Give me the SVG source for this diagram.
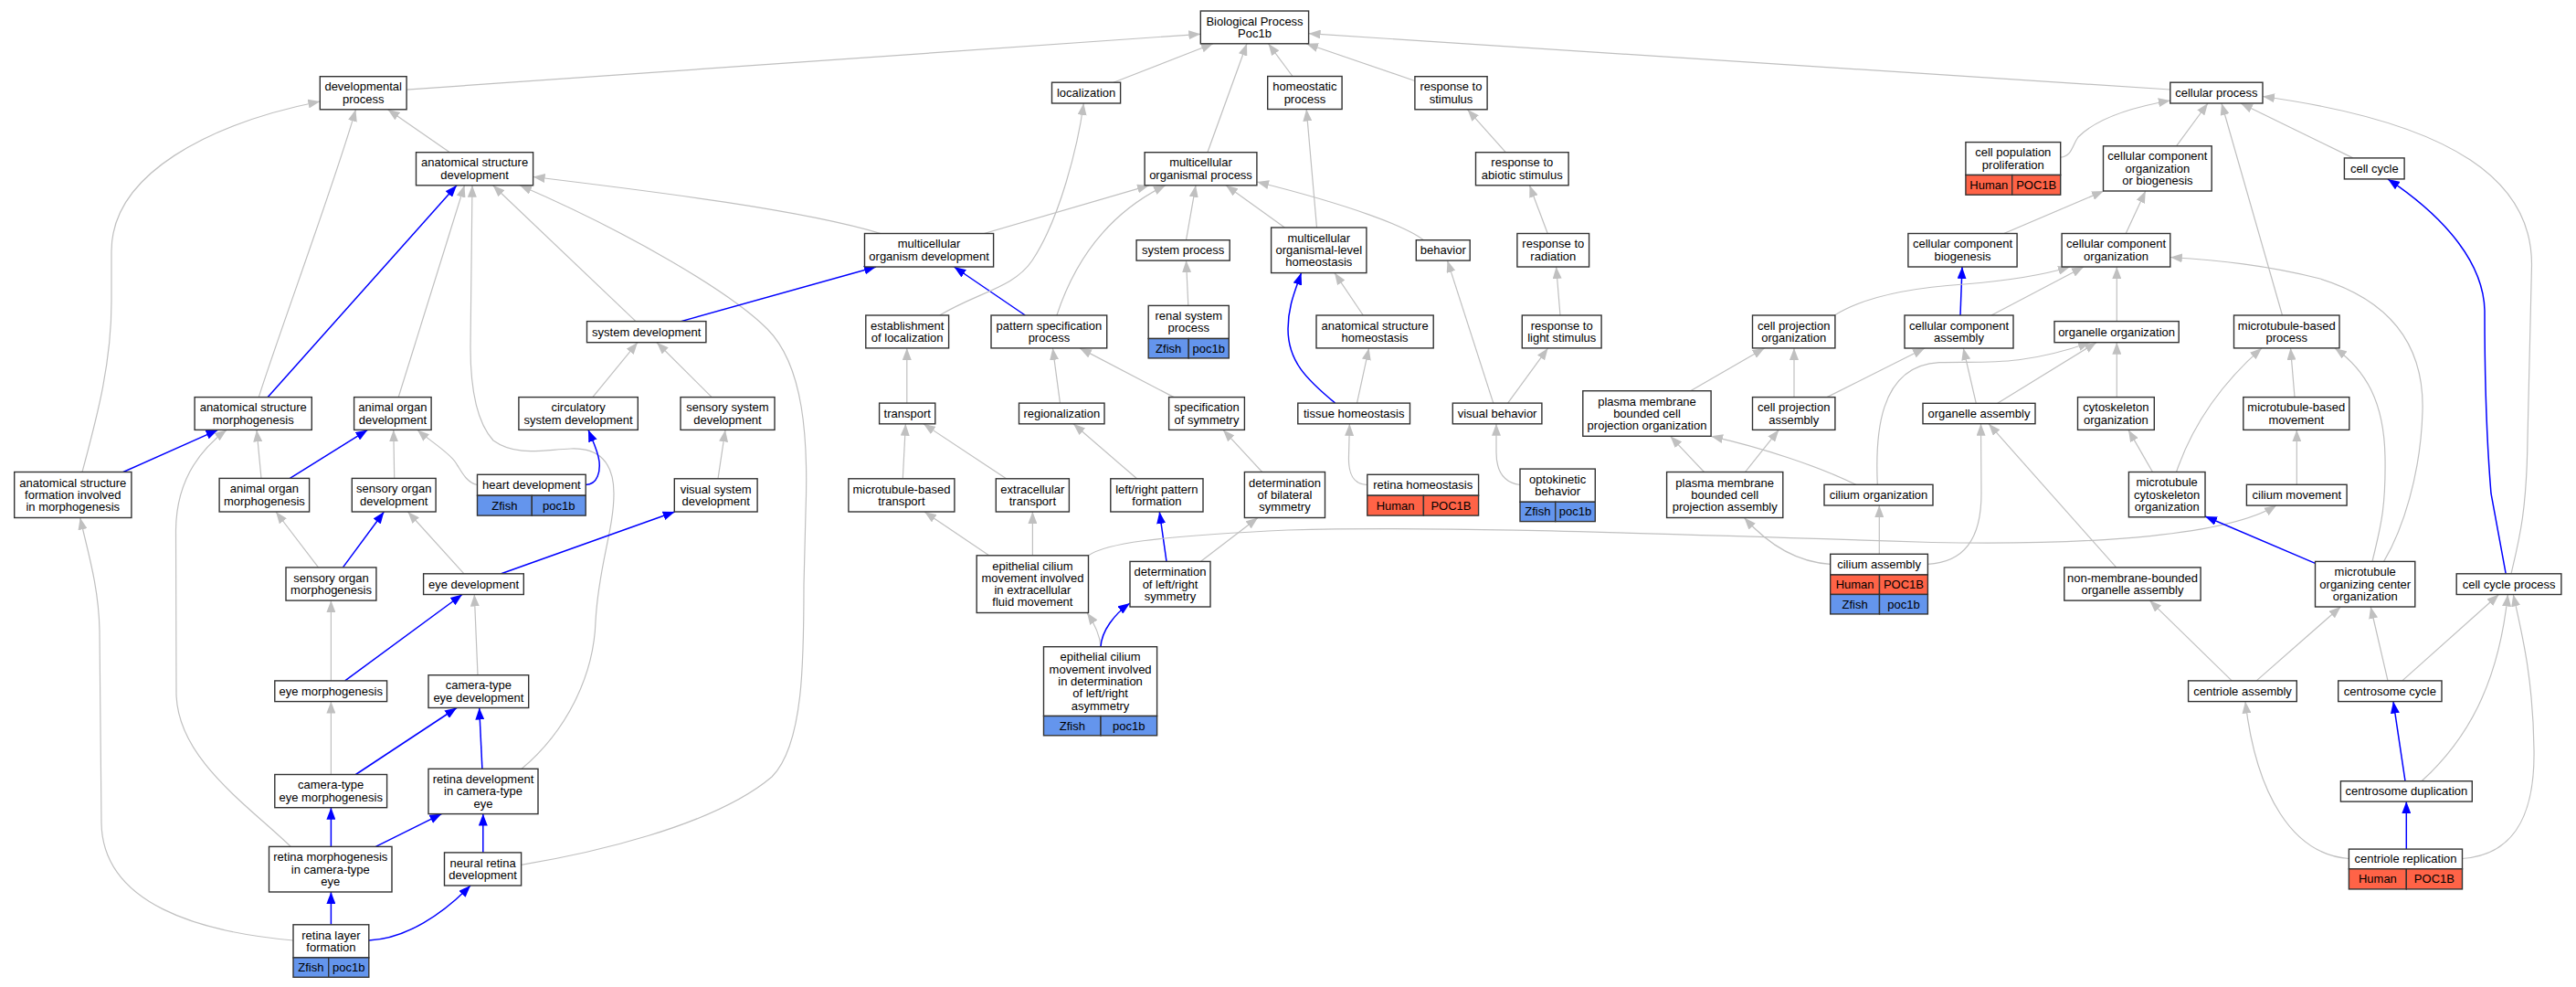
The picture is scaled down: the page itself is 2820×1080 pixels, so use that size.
<svg xmlns="http://www.w3.org/2000/svg" width="2820" height="1080" viewBox="0 0 2820 1080">
<style>
text{font-family:"Liberation Sans",Arial,Helvetica,sans-serif;font-size:13px;text-anchor:middle;fill:#000}
.n rect{fill:#fff;stroke:#333;stroke-width:1.4}
.n rect.h{fill:#ff6347}
.n rect.z{fill:#6495ed}
#edges path{fill:none}
.g{stroke:#c0c0c0;stroke-width:1.2;marker-end:url(#ag)}
.b{stroke:#0000ff;stroke-width:1.5;marker-end:url(#ab)}
</style>
<defs>
<marker id="ag" markerUnits="userSpaceOnUse" markerWidth="13" markerHeight="10" viewBox="0 0 13 10" refX="13" refY="5" orient="auto"><path d="M0,0 L13,5 L0,10 z" fill="#c0c0c0"/></marker>
<marker id="ab" markerUnits="userSpaceOnUse" markerWidth="13" markerHeight="10" viewBox="0 0 13 10" refX="13" refY="5" orient="auto"><path d="M0,0 L13,5 L0,10 z" fill="#0000ff"/></marker>
</defs>
<rect width="2820" height="1080" fill="#fff"/>
<g id="edges">
<path class="g" d="M445.1,98.1 L1314.3,37.3"/>
<path class="g" d="M1219,90.2 L1328,47.8"/>
<path class="g" d="M1321.9,166.7 L1365,47.8"/>
<path class="g" d="M1415,83.5 L1388.5,47.8"/>
<path class="g" d="M1548.9,88.5 L1430,47.8"/>
<path class="g" d="M2375.8,98 L1432.6,36.7"/>
<path class="g" d="M492.4,166.7 L424.5,119.8"/>
<path class="g" d="M283.3,434.6 C300,380 370,190 389.4,119.8"/>
<path class="g" d="M90,516.5 C105,460 122,400 122,330 L122,275 C122,190 230,135 350.3,111"/>
<path class="g" d="M964,255.5 C880,230 720,210 583.6,193.5"/>
<path class="g" d="M696,351.6 L539.6,202.8"/>
<path class="g" d="M436.2,434.6 L508.5,202.8"/>
<path class="g" d="M571,841.3 C620,800 650,740 652,680 C655,620 672,580 672,540 C672,505 655,490 625,491 C595,492 565,500 540,482 C520,460 515,420 515,380 L517,202.8"/>
<path class="g" d="M570.6,946.3 C640,935 780,905 845,850 C880,815 880,720 880,640 L882,560 C885,480 880,400 840,360 C800,320 690,255 569,202.8"/>
<path class="g" d="M286,523.4 L281,470.4"/>
<path class="g" d="M318.3,926.4 C270,880 195,830 193,760 L192.5,580 C193,530 215,495 248,470.4"/>
<path class="g" d="M321,1029 C220,1020 112,990 111,900 L109,690 C108,640 95,600 87.7,566.5"/>
<path class="g" d="M431.7,523.4 L430.8,470.4"/>
<path class="g" d="M522.5,530.5 C510,528 505,515 498,505 C490,494 470,482 457,470.4"/>
<path class="b" d="M641.2,530.5 C655,530 657,515 656,505 C655,495 650,485 644,470.4"/>
<path class="g" d="M648.8,434.6 L698,374.7"/>
<path class="g" d="M779.2,434.6 L719,374.7"/>
<path class="g" d="M786,523.8 L794,470.4"/>
<path class="b" d="M293.2,434.6 L500,202.8"/>
<path class="b" d="M134.9,516.5 L238.5,470.4"/>
<path class="b" d="M317.4,523.4 L402.4,470.4"/>
<path class="g" d="M348.5,620.9 L302,560"/>
<path class="b" d="M375.4,620.9 L420.4,560"/>
<path class="g" d="M508,627.8 L446.5,560"/>
<path class="b" d="M548.6,627.8 L738.7,560"/>
<path class="g" d="M362.4,744.9 L362.4,657.1"/>
<path class="b" d="M377.7,744.9 L506,650.5"/>
<path class="g" d="M523,738.7 L519.3,650.5"/>
<path class="g" d="M362.4,847.5 L362.4,767.6"/>
<path class="b" d="M389.4,847.5 L500,774.5"/>
<path class="b" d="M527.9,841.3 L524.7,774.5"/>
<path class="b" d="M362.4,926.4 L362.4,883.7"/>
<path class="b" d="M411.4,926.4 L483.4,890.6"/>
<path class="b" d="M528.8,932.9 L528.8,890.6"/>
<path class="b" d="M362.4,1011.8 L362.4,976"/>
<path class="b" d="M403.8,1029 C445,1027 485,1000 515,969"/>
<path class="g" d="M1077.3,255.5 L1258,202.8"/>
<path class="g" d="M1156.9,345 C1175,290 1210,235 1276,202.8"/>
<path class="g" d="M1298.5,262.7 L1309,202.8"/>
<path class="g" d="M1406.4,249 L1342,202.8"/>
<path class="g" d="M1558.4,262.7 C1540,248 1480,225 1376,199"/>
<path class="b" d="M745.5,351.6 L959,292"/>
<path class="b" d="M1122.3,345 L1044.5,292"/>
<path class="g" d="M1028.7,345 C1070,320 1110,315 1130,285 C1160,240 1180,160 1186.3,113"/>
<path class="g" d="M1441.5,249 L1430.2,119.5"/>
<path class="g" d="M1300.8,334.4 L1298.5,285.1"/>
<path class="g" d="M992.8,441.1 L992.8,380.9"/>
<path class="g" d="M1160.5,441.1 L1152.4,380.9"/>
<path class="g" d="M1285,434.6 L1182,380.9"/>
<path class="g" d="M988.3,523.8 L991.4,463.8"/>
<path class="g" d="M1101.6,523.8 L1011,463.8"/>
<path class="g" d="M1244.6,523.8 L1175,463.8"/>
<path class="g" d="M1381.7,516.5 L1339,470.4"/>
<path class="g" d="M1082.7,607.8 L1012,560"/>
<path class="g" d="M1130.4,607.8 L1130.4,560"/>
<path class="b" d="M1277,614.4 L1269.3,560"/>
<path class="g" d="M1314.3,614.4 L1377,566.5"/>
<path class="g" d="M1191.5,607.8 C1210,595 1260,587 1410,580 C1550,576 1700,580 2115,593.5 C2300,597 2440,585 2492,553.1"/>
<path class="g" d="M1205,707.7 C1204,695 1198,682 1190,670.5"/>
<path class="b" d="M1205,707.7 C1206,690 1220,672 1237,660"/>
<path class="g" d="M1492.3,345 L1461,298.6"/>
<path class="b" d="M1461.7,441.1 C1430,415 1410,395 1410,360 C1410,335 1418,318 1424.5,298.6"/>
<path class="g" d="M1485.5,441.1 L1498.6,380.9"/>
<path class="g" d="M1496.8,530.5 C1482,530 1476,520 1476.5,500 L1477.4,463.8"/>
<path class="g" d="M1634.8,441.1 L1584.5,285.1"/>
<path class="g" d="M1650.6,441.1 L1694.6,380.9"/>
<path class="g" d="M1664,530.5 C1645,528 1638,515 1638,495 L1638,463.8"/>
<path class="g" d="M1648.3,166.7 L1606.5,119.8"/>
<path class="g" d="M1694.2,255.5 L1674.4,202.8"/>
<path class="g" d="M1708,345 L1703.6,292"/>
<path class="g" d="M2255.7,172.2 C2268,171 2268,160 2275,150 C2295,130 2330,118 2375.8,110"/>
<path class="g" d="M2382.5,159.8 L2417,113"/>
<path class="g" d="M2498.5,345 L2432,113"/>
<path class="g" d="M2575.9,172.9 L2453,113"/>
<path class="g" d="M2749,627.8 C2758,590 2766,560 2767,480 L2771.5,290 C2772,200 2690,135 2477,105.5"/>
<path class="g" d="M2193.7,255.5 L2303,209"/>
<path class="g" d="M2327.2,255.5 L2348.8,209"/>
<path class="b" d="M2743.2,627.8 L2727,540 C2722,480 2720,400 2720,340 C2719,290 2680,240 2614,195.9"/>
<path class="b" d="M2146,345 L2148,292"/>
<path class="g" d="M2008.3,345 C2040,325 2090,315 2150,311 C2200,307 2240,300 2266,292"/>
<path class="g" d="M2180,345 L2281,292"/>
<path class="g" d="M2317.3,351.6 L2317.3,292"/>
<path class="g" d="M2609.6,614.4 C2630,580 2650,520 2652,450 C2654,380 2620,330 2540,305 C2480,290 2430,285 2375.8,281.5"/>
<path class="g" d="M1850.6,427.7 L1931.6,380.9"/>
<path class="g" d="M1964,434.6 L1964,380.9"/>
<path class="g" d="M2000,434.6 L2107,381"/>
<path class="g" d="M2055.3,530.3 C2053,480 2055,400 2123,396.7 C2170,395 2210,402 2288,374.7"/>
<path class="g" d="M2186.7,441.3 L2295,374.7"/>
<path class="g" d="M2163.3,441.3 L2149.3,381"/>
<path class="g" d="M2317.3,434.6 L2317.3,374.7"/>
<path class="g" d="M2512,434.6 L2507.5,380.9"/>
<path class="g" d="M2382.5,516.5 C2395,480 2420,430 2476,380.9"/>
<path class="g" d="M2597,614.4 C2605,580 2612,560 2611,500 C2610,440 2590,405 2556,380.9"/>
<path class="g" d="M2356.5,516.5 L2330,470.4"/>
<path class="g" d="M2514.3,530.3 L2514.3,470.4"/>
<path class="b" d="M2534.5,616.4 L2414,565"/>
<path class="g" d="M2110.4,617.3 C2150,615 2169,590 2169,540 L2168.5,463.7"/>
<path class="g" d="M2316.7,620.9 L2177,463.7"/>
<path class="g" d="M2057.3,606.3 L2057.3,553"/>
<path class="g" d="M2003.7,617.3 C1965,615 1935,595 1909.5,566.5"/>
<path class="g" d="M1865.5,516.5 L1828.5,477.3"/>
<path class="g" d="M1910.5,516.5 L1947.3,470.4"/>
<path class="g" d="M2031.7,530.3 C1990,510 1930,490 1873.1,477.3"/>
<path class="g" d="M2629.8,744.9 L2735.5,650.5"/>
<path class="g" d="M2614,744.9 L2595.2,664"/>
<path class="g" d="M2470.2,744.9 L2562.4,664"/>
<path class="g" d="M2443.2,744.9 L2353.3,657.1"/>
<path class="g" d="M2651,854.7 C2700,810 2735,750 2745.4,650.5"/>
<path class="b" d="M2633,854.7 L2620,767.6"/>
<path class="b" d="M2634.3,929.1 L2634.3,877.1"/>
<path class="g" d="M2571.4,939.5 C2510,935 2470,870 2458,767.6"/>
<path class="g" d="M2695.5,939.5 C2760,935 2775,880 2774,820 C2773,740 2760,690 2751.3,650.5"/>
</g>
<g id="n-bp" class="n"><rect x="1314.3" y="12" width="118.3" height="35.8"/><text><tspan x="1373.5" y="27.6">Biological Process</tspan><tspan x="1373.5" y="40.9">Poc1b</tspan></text></g>
<g id="n-devproc" class="n"><rect x="350.3" y="83.7" width="94.8" height="36.1"/><text><tspan x="397.7" y="99.4">developmental</tspan><tspan x="397.7" y="112.7">process</tspan></text></g>
<g id="n-localization" class="n"><rect x="1151.5" y="90.2" width="75.1" height="22.8"/><text x="1189.1" y="105.9">localization</text></g>
<g id="n-homeoproc" class="n"><rect x="1387.7" y="83.5" width="81.4" height="36"/><text><tspan x="1428.4" y="99.2">homeostatic</tspan><tspan x="1428.4" y="112.5">process</tspan></text></g>
<g id="n-respstim" class="n"><rect x="1548.9" y="83.7" width="79.2" height="36.1"/><text><tspan x="1588.5" y="99.4">response to</tspan><tspan x="1588.5" y="112.7">stimulus</tspan></text></g>
<g id="n-cellproc" class="n"><rect x="2375.8" y="90.2" width="101.2" height="22.8"/><text x="2426.4" y="105.9">cellular process</text></g>
<g id="n-asd" class="n"><rect x="455.5" y="166.7" width="128.1" height="36.1"/><text><tspan x="519.6" y="182.4">anatomical structure</tspan><tspan x="519.6" y="195.7">development</tspan></text></g>
<g id="n-mop" class="n"><rect x="1253.1" y="166.7" width="122.8" height="36.1"/><text><tspan x="1314.5" y="182.4">multicellular</tspan><tspan x="1314.5" y="195.7">organismal process</tspan></text></g>
<g id="n-rabio" class="n"><rect x="1615.5" y="166.7" width="101.6" height="36.1"/><text><tspan x="1666.3" y="182.4">response to</tspan><tspan x="1666.3" y="195.7">abiotic stimulus</tspan></text></g>
<g id="n-cpp" class="n"><rect x="2151.9" y="155.6" width="103.8" height="35.9"/><rect class="h" x="2151.9" y="191.5" width="50.8" height="21.7"/><rect class="h" x="2202.7" y="191.5" width="53" height="21.7"/><text><tspan x="2203.8" y="171.2">cell population</tspan><tspan x="2203.8" y="184.5">proliferation</tspan></text><text x="2177.3" y="206.7">Human</text><text x="2229.2" y="206.7">POC1B</text></g>
<g id="n-ccoob" class="n"><rect x="2302.5" y="159.8" width="118.7" height="49.2"/><text><tspan x="2361.9" y="175.4">cellular component</tspan><tspan x="2361.9" y="188.7">organization</tspan><tspan x="2361.9" y="202">or biogenesis</tspan></text></g>
<g id="n-cellcycle" class="n"><rect x="2566.4" y="172.9" width="65.7" height="23"/><text x="2599.3" y="188.7">cell cycle</text></g>
<g id="n-mod" class="n"><rect x="946.5" y="255.5" width="141.1" height="36.5"/><text><tspan x="1017.1" y="271.4">multicellular</tspan><tspan x="1017.1" y="284.7">organism development</tspan></text></g>
<g id="n-sysproc" class="n"><rect x="1244.1" y="262.7" width="102.1" height="22.4"/><text x="1295.2" y="278.2">system process</text></g>
<g id="n-molh" class="n"><rect x="1391.6" y="249" width="104.3" height="49.6"/><text><tspan x="1443.8" y="264.8">multicellular</tspan><tspan x="1443.8" y="278.1">organismal-level</tspan><tspan x="1443.8" y="291.4">homeostasis</tspan></text></g>
<g id="n-behavior" class="n"><rect x="1550.3" y="262.7" width="58.9" height="22.4"/><text x="1579.8" y="278.2">behavior</text></g>
<g id="n-rrad" class="n"><rect x="1660.9" y="255.5" width="78.7" height="36.5"/><text><tspan x="1700.3" y="271.4">response to</tspan><tspan x="1700.3" y="284.7">radiation</tspan></text></g>
<g id="n-ccb" class="n"><rect x="2088.9" y="255.5" width="119.2" height="36.5"/><text><tspan x="2148.5" y="271.4">cellular component</tspan><tspan x="2148.5" y="284.7">biogenesis</tspan></text></g>
<g id="n-cco" class="n"><rect x="2257.1" y="255.5" width="118.7" height="36.5"/><text><tspan x="2316.5" y="271.4">cellular component</tspan><tspan x="2316.5" y="284.7">organization</tspan></text></g>
<g id="n-sysdev" class="n"><rect x="642.5" y="351.6" width="130.4" height="23.1"/><text x="707.7" y="367.5">system development</text></g>
<g id="n-eol" class="n"><rect x="947.8" y="345" width="90.8" height="35.9"/><text><tspan x="993.2" y="360.6">establishment</tspan><tspan x="993.2" y="373.9">of localization</tspan></text></g>
<g id="n-psp" class="n"><rect x="1085" y="345" width="126.7" height="35.9"/><text><tspan x="1148.4" y="360.6">pattern specification</tspan><tspan x="1148.4" y="373.9">process</tspan></text></g>
<g id="n-renal" class="n"><rect x="1257.2" y="334.4" width="88.1" height="36.1"/><rect class="z" x="1257.2" y="370.5" width="44" height="21.4"/><rect class="z" x="1301.2" y="370.5" width="44.1" height="21.4"/><text><tspan x="1301.3" y="350.1">renal system</tspan><tspan x="1301.3" y="363.4">process</tspan></text><text x="1279.2" y="385.5">Zfish</text><text x="1323.3" y="385.5">poc1b</text></g>
<g id="n-ash" class="n"><rect x="1441" y="345" width="128.2" height="35.9"/><text><tspan x="1505.1" y="360.6">anatomical structure</tspan><tspan x="1505.1" y="373.9">homeostasis</tspan></text></g>
<g id="n-rls" class="n"><rect x="1666.3" y="345" width="86.8" height="35.9"/><text><tspan x="1709.7" y="360.6">response to</tspan><tspan x="1709.7" y="373.9">light stimulus</tspan></text></g>
<g id="n-cpo" class="n"><rect x="1918.5" y="345" width="90.4" height="35.9"/><text><tspan x="1963.7" y="360.6">cell projection</tspan><tspan x="1963.7" y="373.9">organization</tspan></text></g>
<g id="n-cca" class="n"><rect x="2085" y="345" width="119" height="36"/><text><tspan x="2144.5" y="360.7">cellular component</tspan><tspan x="2144.5" y="374">assembly</tspan></text></g>
<g id="n-oo" class="n"><rect x="2249" y="351.6" width="136.2" height="23.1"/><text x="2317.1" y="367.5">organelle organization</text></g>
<g id="n-mbp" class="n"><rect x="2445.5" y="345" width="115.5" height="35.9"/><text><tspan x="2503.3" y="360.6">microtubule-based</tspan><tspan x="2503.3" y="373.9">process</tspan></text></g>
<g id="n-asm" class="n"><rect x="213.1" y="434.6" width="128.2" height="35.8"/><text><tspan x="277.2" y="450.2">anatomical structure</tspan><tspan x="277.2" y="463.5">morphogenesis</tspan></text></g>
<g id="n-aod" class="n"><rect x="387.6" y="434.6" width="84.5" height="35.8"/><text><tspan x="429.9" y="450.2">animal organ</tspan><tspan x="429.9" y="463.5">development</tspan></text></g>
<g id="n-csd" class="n"><rect x="567.9" y="434.6" width="130.4" height="35.8"/><text><tspan x="633.1" y="450.2">circulatory</tspan><tspan x="633.1" y="463.5">system development</tspan></text></g>
<g id="n-ssd" class="n"><rect x="745" y="434.6" width="103" height="35.8"/><text><tspan x="796.5" y="450.2">sensory system</tspan><tspan x="796.5" y="463.5">development</tspan></text></g>
<g id="n-transport" class="n"><rect x="962.6" y="441.1" width="61.2" height="22.7"/><text x="993.2" y="456.8">transport</text></g>
<g id="n-region" class="n"><rect x="1115.5" y="441.1" width="93.5" height="22.7"/><text x="1162.3" y="456.8">regionalization</text></g>
<g id="n-specsym" class="n"><rect x="1279.6" y="434.6" width="82.8" height="35.8"/><text><tspan x="1321" y="450.2">specification</tspan><tspan x="1321" y="463.5">of symmetry</tspan></text></g>
<g id="n-tissueh" class="n"><rect x="1420.8" y="441.1" width="122.7" height="22.7"/><text x="1482.2" y="456.8">tissue homeostasis</text></g>
<g id="n-visbeh" class="n"><rect x="1590.3" y="441.1" width="97.6" height="22.7"/><text x="1639.1" y="456.8">visual behavior</text></g>
<g id="n-pmbcpo" class="n"><rect x="1732.8" y="427.7" width="140.3" height="49.6"/><text><tspan x="1803" y="443.5">plasma membrane</tspan><tspan x="1803" y="456.8">bounded cell</tspan><tspan x="1803" y="470.1">projection organization</tspan></text></g>
<g id="n-cpa" class="n"><rect x="1918.5" y="434.6" width="90.4" height="35.8"/><text><tspan x="1963.7" y="450.2">cell projection</tspan><tspan x="1963.7" y="463.5">assembly</tspan></text></g>
<g id="n-oa" class="n"><rect x="2105" y="441.3" width="123" height="22.4"/><text x="2166.5" y="456.8">organelle assembly</text></g>
<g id="n-cytoorg" class="n"><rect x="2274.5" y="434.6" width="83.8" height="35.8"/><text><tspan x="2316.4" y="450.2">cytoskeleton</tspan><tspan x="2316.4" y="463.5">organization</tspan></text></g>
<g id="n-mbm" class="n"><rect x="2455.8" y="434.6" width="116" height="35.8"/><text><tspan x="2513.8" y="450.2">microtubule-based</tspan><tspan x="2513.8" y="463.5">movement</tspan></text></g>
<g id="n-asfim" class="n"><rect x="15.7" y="516.5" width="128.2" height="50"/><text><tspan x="79.8" y="532.5">anatomical structure</tspan><tspan x="79.8" y="545.8">formation involved</tspan><tspan x="79.8" y="559.1">in morphogenesis</tspan></text></g>
<g id="n-aom" class="n"><rect x="240.1" y="523.4" width="98.5" height="36.6"/><text><tspan x="289.4" y="539.4">animal organ</tspan><tspan x="289.4" y="552.7">morphogenesis</tspan></text></g>
<g id="n-sod" class="n"><rect x="385.3" y="523.4" width="91.8" height="36.6"/><text><tspan x="431.2" y="539.4">sensory organ</tspan><tspan x="431.2" y="552.7">development</tspan></text></g>
<g id="n-heartdev" class="n"><rect x="522.5" y="519.3" width="118.7" height="22.9"/><rect class="z" x="522.5" y="542.2" width="59.8" height="21.9"/><rect class="z" x="582.3" y="542.2" width="58.9" height="21.9"/><text x="581.9" y="535.1">heart development</text><text x="552.4" y="557.5">Zfish</text><text x="611.8" y="557.5">poc1b</text></g>
<g id="n-vsd" class="n"><rect x="738.3" y="523.8" width="90.8" height="36.2"/><text><tspan x="783.7" y="539.6">visual system</tspan><tspan x="783.7" y="552.9">development</tspan></text></g>
<g id="n-mbt" class="n"><rect x="928.9" y="523.8" width="116" height="36.2"/><text><tspan x="986.9" y="539.6">microtubule-based</tspan><tspan x="986.9" y="552.9">transport</tspan></text></g>
<g id="n-ect" class="n"><rect x="1090.3" y="523.8" width="80.1" height="36.2"/><text><tspan x="1130.4" y="539.6">extracellular</tspan><tspan x="1130.4" y="552.9">transport</tspan></text></g>
<g id="n-lrpf" class="n"><rect x="1215.8" y="523.8" width="101.2" height="36.2"/><text><tspan x="1266.4" y="539.6">left/right pattern</tspan><tspan x="1266.4" y="552.9">formation</tspan></text></g>
<g id="n-dbs" class="n"><rect x="1362.4" y="516.5" width="88.1" height="50"/><text><tspan x="1406.5" y="532.5">determination</tspan><tspan x="1406.5" y="545.8">of bilateral</tspan><tspan x="1406.5" y="559.1">symmetry</tspan></text></g>
<g id="n-retinah" class="n"><rect x="1496.8" y="519.3" width="121.8" height="22.9"/><rect class="h" x="1496.8" y="542.2" width="61.6" height="21.9"/><rect class="h" x="1558.4" y="542.2" width="60.2" height="21.9"/><text x="1557.7" y="535.1">retina homeostasis</text><text x="1527.6" y="557.5">Human</text><text x="1588.5" y="557.5">POC1B</text></g>
<g id="n-okb" class="n"><rect x="1664" y="513.1" width="82.3" height="36.2"/><rect class="z" x="1664" y="549.3" width="38.7" height="21.3"/><rect class="z" x="1702.7" y="549.3" width="43.6" height="21.3"/><text><tspan x="1705.2" y="528.9">optokinetic</tspan><tspan x="1705.2" y="542.2">behavior</tspan></text><text x="1683.4" y="564.3">Zfish</text><text x="1724.5" y="564.3">poc1b</text></g>
<g id="n-pmbcpa" class="n"><rect x="1824.6" y="516.5" width="127.2" height="50"/><text><tspan x="1888.2" y="532.5">plasma membrane</tspan><tspan x="1888.2" y="545.8">bounded cell</tspan><tspan x="1888.2" y="559.1">projection assembly</tspan></text></g>
<g id="n-ciliumorg" class="n"><rect x="1997" y="530.3" width="119" height="22.7"/><text x="2056.5" y="546">cilium organization</text></g>
<g id="n-mco" class="n"><rect x="2330.4" y="516.5" width="83.6" height="49.3"/><text><tspan x="2372.2" y="532.2">microtubule</tspan><tspan x="2372.2" y="545.5">cytoskeleton</tspan><tspan x="2372.2" y="558.8">organization</tspan></text></g>
<g id="n-ciliummov" class="n"><rect x="2459.4" y="530.3" width="109.7" height="22.8"/><text x="2514.3" y="546">cilium movement</text></g>
<g id="n-ecmefm" class="n"><rect x="1069.2" y="607.8" width="122.3" height="62.7"/><text><tspan x="1130.4" y="623.5">epithelial cilium</tspan><tspan x="1130.4" y="636.8">movement involved</tspan><tspan x="1130.4" y="650.1">in extracellular</tspan><tspan x="1130.4" y="663.4">fluid movement</tspan></text></g>
<g id="n-dlrs" class="n"><rect x="1237" y="614.4" width="88" height="49.6"/><text><tspan x="1281" y="630.2">determination</tspan><tspan x="1281" y="643.5">of left/right</tspan><tspan x="1281" y="656.8">symmetry</tspan></text></g>
<g id="n-ciliumasm" class="n"><rect x="2003.7" y="606.3" width="106.7" height="22.7"/><rect class="h" x="2003.7" y="629" width="53.8" height="21.45"/><rect class="h" x="2057.5" y="629" width="52.9" height="21.45"/><rect class="z" x="2003.7" y="650.45" width="53.8" height="21.45"/><rect class="z" x="2057.5" y="650.45" width="52.9" height="21.45"/><text x="2057.1" y="622">cilium assembly</text><text x="2030.6" y="644">Human</text><text x="2084" y="644">POC1B</text><text x="2030.6" y="665.5">Zfish</text><text x="2084" y="665.5">poc1b</text></g>
<g id="n-nmboa" class="n"><rect x="2259.8" y="620.9" width="149.3" height="36.2"/><text><tspan x="2334.5" y="636.7">non-membrane-bounded</tspan><tspan x="2334.5" y="650">organelle assembly</tspan></text></g>
<g id="n-mtoc" class="n"><rect x="2534.5" y="614.4" width="109.3" height="49.6"/><text><tspan x="2589.2" y="630.2">microtubule</tspan><tspan x="2589.2" y="643.5">organizing center</tspan><tspan x="2589.2" y="656.8">organization</tspan></text></g>
<g id="n-ccp" class="n"><rect x="2689.2" y="627.8" width="114.7" height="22.7"/><text x="2746.6" y="643.5">cell cycle process</text></g>
<g id="n-som" class="n"><rect x="313" y="620.9" width="98.9" height="36.2"/><text><tspan x="362.5" y="636.7">sensory organ</tspan><tspan x="362.5" y="650">morphogenesis</tspan></text></g>
<g id="n-eyedev" class="n"><rect x="463.6" y="627.8" width="109.7" height="22.7"/><text x="518.5" y="643.5">eye development</text></g>
<g id="n-ecmdlr" class="n"><rect x="1142.5" y="707.7" width="124.1" height="75.8"/><rect class="z" x="1142.5" y="783.5" width="62.5" height="21.3"/><rect class="z" x="1205" y="783.5" width="61.6" height="21.3"/><text><tspan x="1204.6" y="723.3">epithelial cilium</tspan><tspan x="1204.6" y="736.6">movement involved</tspan><tspan x="1204.6" y="749.9">in determination</tspan><tspan x="1204.6" y="763.2">of left/right</tspan><tspan x="1204.6" y="776.5">asymmetry</tspan></text><text x="1173.8" y="798.5">Zfish</text><text x="1235.8" y="798.5">poc1b</text></g>
<g id="n-eyemorph" class="n"><rect x="300.8" y="744.9" width="122.8" height="22.7"/><text x="362.2" y="760.6">eye morphogenesis</text></g>
<g id="n-ctedev" class="n"><rect x="469" y="738.7" width="109.7" height="35.8"/><text><tspan x="523.9" y="754.3">camera-type</tspan><tspan x="523.9" y="767.6">eye development</tspan></text></g>
<g id="n-centasm" class="n"><rect x="2395.6" y="744.9" width="118.7" height="22.7"/><text x="2455" y="760.6">centriole assembly</text></g>
<g id="n-centcyc" class="n"><rect x="2559.7" y="744.9" width="113.3" height="22.7"/><text x="2616.4" y="760.6">centrosome cycle</text></g>
<g id="n-ctem" class="n"><rect x="300.8" y="847.5" width="122.8" height="36.2"/><text><tspan x="362.2" y="863.3">camera-type</tspan><tspan x="362.2" y="876.6">eye morphogenesis</tspan></text></g>
<g id="n-rdcte" class="n"><rect x="469" y="841.3" width="120" height="49.3"/><text><tspan x="529" y="857">retina development</tspan><tspan x="529" y="870.3">in camera-type</tspan><tspan x="529" y="883.6">eye</tspan></text></g>
<g id="n-centdup" class="n"><rect x="2562.4" y="854.7" width="143.9" height="22.4"/><text x="2634.4" y="870.2">centrosome duplication</text></g>
<g id="n-rmcte" class="n"><rect x="294.5" y="926.4" width="134.5" height="49.6"/><text><tspan x="361.8" y="942.2">retina morphogenesis</tspan><tspan x="361.8" y="955.5">in camera-type</tspan><tspan x="361.8" y="968.8">eye</tspan></text></g>
<g id="n-nrd" class="n"><rect x="486.5" y="932.9" width="84.1" height="36.1"/><text><tspan x="528.6" y="948.6">neural retina</tspan><tspan x="528.6" y="961.9">development</tspan></text></g>
<g id="n-centrep" class="n"><rect x="2571.4" y="929.1" width="124.1" height="21.7"/><rect class="h" x="2571.4" y="950.8" width="62.9" height="22.1"/><rect class="h" x="2634.3" y="950.8" width="61.2" height="22.1"/><text x="2633.5" y="944.3">centriole replication</text><text x="2602.9" y="966.2">Human</text><text x="2664.9" y="966.2">POC1B</text></g>
<g id="n-rlf" class="n"><rect x="321" y="1011.8" width="82.8" height="36.1"/><rect class="z" x="321" y="1047.9" width="38.7" height="21.4"/><rect class="z" x="359.7" y="1047.9" width="44.1" height="21.4"/><text><tspan x="362.4" y="1027.5">retina layer</tspan><tspan x="362.4" y="1040.8">formation</tspan></text><text x="340.4" y="1062.9">Zfish</text><text x="381.8" y="1062.9">poc1b</text></g>
</svg>
